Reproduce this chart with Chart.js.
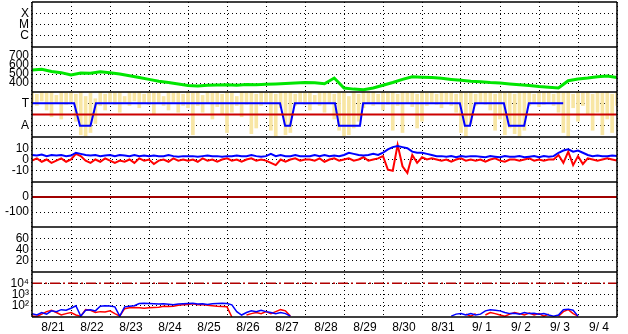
<!DOCTYPE html>
<html>
<head>
<meta charset="utf-8">
<script src="https://cdn.jsdelivr.net/npm/chart.js@4.4.0/dist/chart.umd.min.js"></script>
<style>
  html, body { margin: 0; padding: 0; background: #fff; }
  canvas { display: block; }
</style>
</head>
<body>
<canvas id="myChart" width="628" height="334"></canvas>
<script>
// x 축: 8/21 00:00 부터 하루 단위 (0 ~ 15)
const dayLabels = ["8/21", "8/22", "8/23", "8/24", "8/25", "8/26", "8/27", "8/28",
  "8/29", "8/30", "8/31", "9/ 1", "9/ 2", "9/ 3", "9/ 4"];

// 패널 1 : X / M / C (데이터 없음)
const xmcTicks = [1, 2, 3];
const xmcLabels = ["C", "M", "X"];

// 패널 2 : 초록 선 (0.25일 간격)
const greenStep = 0.25;
const greenVals = [545, 552, 528, 515, 490, 512, 508, 525, 515, 500, 480, 462, 440, 420, 405, 390,
  372, 368, 375, 378, 380, 376, 384, 380, 386, 390, 394, 400, 405, 402, 392, 455,
  345, 332, 325, 345, 375, 405, 440, 470, 465, 460, 452, 440, 430, 420, 415, 405,
  400, 390, 380, 372, 360, 352, 345, 425, 445, 455, 470, 478, 460];
const greenTicks = [400, 500, 600, 700];

// 패널 3 : T / A 상태 (A = 0, T = 1)
const taTicks = [0, 1];
const taLabels = ["A", "T"];
const taX = [0, 1.08, 1.23, 1.5, 1.64, 6.36, 6.49, 6.62, 6.74, 7.77, 7.87, 8.41, 8.49,
  10.97, 11.1, 11.23, 11.36, 12.1, 12.23, 12.62, 12.74, 13.62];
const taY = [1, 1, 0, 0, 1, 1, 0, 0, 1, 1, 0, 0, 1, 1, 0, 0, 1, 1, 0, 0, 1, 1];
const taLimit = 0.5;
// 노란 점들 (0.125일 간격, 아래 / 위 값)
const yellowStep = 0.125;
const yellowLo = [1.0, 0.9, 1.1, 0.7, 0.4, 1.0, 0.3, 0.95, 1.05, 0.2, -0.4, -0.45, -0.3, 0.1, 0.9, 0.7,
  1.0, 0.95, 0.6, 1.05, 0.9, 1.1, 0.8, 1.0, 0.95, 0.5, 1.0, 0.9, 0.7, 1.05, 0.6, 0.9,
  0.8, -0.4, 0.9, 0.6, 1.0, 0.3, 0.85, 0.5, -0.3, 0.6, 0.9, 0.4, 0.95, -0.35, -0.1, 0.9,
  1.0, -0.2, -0.45, 0.8, -0.4, -0.3, 0.9, 1.05, 0.95, 0.7, 1.0, 0.9, 0.6, 1.0, 0.3, -0.2,
  -0.45, -0.4, -0.1, 0.2, 0.8, 1.0, 0.9, 1.05, 0.7, 0.95, -0.2, 0.9, -0.3, 1.0, 0.85, -0.1,
  0.2, 0.9, 1.0, 0.95, 0.8, 1.05, 0.9, 0.6, -0.3, -0.45, 0.1, 0.9, 1.0, 0.95, 0.7, -0.2,
  0.3, -0.4, -0.1, -0.35, -0.45, -0.2, 0.9, 1.0, 0.85, 0.95, 1.05, 0.9, 0.6, -0.3, -0.45, 0.8,
  0.2, 0.9, 0.5, -0.2, 0.6, -0.4, 0.3, -0.3, 0.9];
const yellowHi = [1.5, 1.4, 1.5, 1.45, 1.5, 1.35, 1.5, 1.45, 1.5, 1.4, 1.5, 1.3, 1.45, 1.2, 1.5, 1.4,
  1.5, 1.45, 1.5, 1.3, 1.5, 1.45, 1.5, 1.4, 1.5, 1.45, 1.5, 1.3, 1.5, 1.45, 1.5, 1.4,
  1.5, 1.45, 1.5, 1.35, 1.5, 1.45, 1.5, 1.4, 1.5, 1.45, 1.3, 1.5, 1.45, 1.5, 1.4, 1.5,
  1.45, 1.5, 1.4, 1.5, 1.45, 1.5, 1.4, 1.5, 1.45, 1.5, 1.35, 1.5, 1.45, 1.5, 1.4, 1.5,
  1.45, 1.3, 1.5, 1.4, 1.5, 1.45, 1.5, 1.4, 1.5, 1.45, 1.5, 1.4, 1.5, 1.45, 1.5, 1.4,
  1.5, 1.45, 1.5, 1.4, 1.5, 1.45, 1.5, 1.4, 1.5, 1.45, 1.5, 1.4, 1.5, 1.45, 1.5, 1.4,
  1.5, 1.45, 1.5, 1.4, 1.5, 1.45, 1.5, 1.4, 1.5, 1.45, 1.5, 1.4, 1.5, 1.45, 1.5, 1.4,
  1.5, 1.45, 1.5, 1.4, 1.5, 1.45, 1.5, 1.4, 1.5];

// 패널 4 : 파랑 / 빨강 (0.125일 간격)
const fluxStep = 0.125;
const fluxBlue = [4, 3.5, 4.5, 3, 4, 3.5, 4, 3, 3.5, 6, 5, 4, 3.5, 4, 3, 3.5, 4,
  3, 4, 3.5, 3, 4, 3, 3.5, 3, 3.5, 3, 3, 4, 3, 2.5, 3, 3,
  3, 2.5, 3, 3.5, 3, 3, 2.5, 3, 3, 3.5, 3, 3, 4, 3, 2.5, 3,
  5, 3, 4, 3, 3, 4, 3, 3, 3, 4, 3, 4, 3, 3.5, 3, 4,
  6, 5, 4, 3.5, 4, 5, 4, 6, 9, 11, 12, 11, 10, 7, 6, 6, 5, 4,
  3, 3, 2.5, 3, 2, 3, 2.5, 3, 3, 2.5, 2, 3, 2.5, 2, 3, 2.5,
  2.5, 3, 2, 2.5, 3, 2, 3, 2.5, 3, 6, 8, 9, 7, 8, 6, 4,
  3, 3.5, 3, 3, 3.5, 3];
const fluxRed = [-1, 1, -2, 0, -3, -1, 1, -2, 0, 5, 3, -1, -3, 0, -2, 1, -1,
  -3, -1, -2, 0, -3, 1, -1, 0, -4, -1, 0, -2, 1, -1, 0, -1,
  0, -2, 1, -1, 0, -2, 0, 1, -1, 0, -2, 0, 1, -1, 0, -1,
  -3, -5, 0, -2, 0, 1, -1, 0, 0, -1, 1, -2, 0, 1, -1, 0,
  1, -1, 0, 2, -1, 0, 1, 3, -9, -10, 13, -6, -12, 4, -3, 2, 0, 1,
  0, -1, 0, -2, 0, 1, -1, 0, -1, 0, -2, 0, 1, -1, -2, 0,
  0, -1, 0, 1, -1, 0, -1, 0, 0, 4, -3, 7, -5, 3, -4, 1,
  0, -1, 0, 1, 0, -1];
const fluxTicks = [-10, 0, 10];

// 패널 5 : 0 기준선
const baseTicks = [-100, 0];
const baseLevel = 0;

// 패널 6 : 비어 있음
const emptyTicks = [20, 40, 60];

// 패널 7 : 로그 스케일 (0.125일 간격, null = 값 없음)
const logTicks = [100, 1000, 10000];
const logLabels = ["10²", "10³", "10⁴"];
const logLimit = 10000;
const countStep = 0.125;
const countBlue = [20, 15, 25, 18, 35, 30, 45, 40, 60, 100, 12,
  40, 45, 35, 90, 100, 95, 80, 12, 80, 90,
  100, 160, 170, 160, 150, 140, 150, 135, 120, 140,
  150, 160, 170, 140, 150, 130, 150, 160, 165, 160,
  120, 30, 15, 25, 35, 30, 40, 30, 25, 20, 25, 20, 12,
  null, null, null, null, null, null, null, null, null, null, null, null, null, null, null, null,
  null, null, 15, null, null, null, null, null, null, null, null, null, null, null, null, null,
  12, 18, 20, 15, 20, 15, 18, 35, 45, 40, 35, 25, 20, 22, 18, 25, 20, 22, 18, 20,
  15, 12, 15, 45, 50, 40, 12,
  null, null, null, null, null, null, null, null];
const countRed = [12, 11, 18, 30, 40, 25, 15, 20, 25, 15, 12,
  45, 40, 25, 30, 28, 35, 20, 12, 55, 65,
  70, 65, 60, 65, 70, 75, 90, 85, 90, 110,
  120, 130, 150, 120, 130, 110, 100, 90, 85, 80,
  10, null, null, 15, 20, 25, 20, 30, 20, 30, 45, 35, 12,
  null, null, null, null, null, null, 11, null, null, null, null, null, null, null, null, null,
  null, null, null, null, null, null, null, null, null, null, null, null, null, null, null, null,
  null, null, null, 18, 12, 20, null, 15, 25, 20, 15, 12, 18, 25, 20, 15, 22, 15, 20, 12,
  18, null, 12, 30, 45, 20, 12,
  null, null, null, null, null, null, null, null];

// 함수명 : toPoints
// 기능 : 일정 간격 값 배열 -> {x, y} 배열
function toPoints(values, step) {
  return values.map((v, i) => ({ x: i * step, y: v }));
}

// 가로 전체 선 (0일 ~ 15일)
function flatLine(level) {
  return [{ x: 0, y: level }, { x: dayLabels.length, y: level }];
}

const font = { family: "'Liberation Sans', Arial, sans-serif", size: 12 };

// 함수명 : panelAxis
// 기능 : 왼쪽에 쌓이는 패널용 y 축 생성
function panelAxis(min, max, tickValues, labels, type) {
  return {
    type: type || "linear",
    position: "left",
    stack: "panels",
    stackWeight: 1,
    min: min,
    max: max,
    grid: { color: "#000", lineWidth: 1, drawTicks: false },
    border: { display: false, dash: [1, 3] },
    ticks: {
      color: "#000",
      font: font,
      padding: 3,
      autoSkip: false,
      callback: (v, i) => (labels ? labels[i] : String(v)),
    },
    afterBuildTicks: (s) => {
      s.ticks = tickValues.map((v) => ({ value: v }));
    },
    afterFit: (s) => {
      // 라벨 때문에 위/아래 여백이 생기지 않게
      s.width = 32;
      s.paddingTop = 0;
      s.paddingBottom = 0;
    },
  };
}

const panelIds = ["y1", "y2", "y3", "y4", "y5", "y6", "y7"];

// 패널 구분선 + 테두리
const panelFrame = {
  id: "panelFrame",
  afterDraw(chart) {
    const { ctx, chartArea } = chart;
    ctx.save();
    ctx.strokeStyle = "#000";
    ctx.lineWidth = 1.5;
    ctx.beginPath();
    panelIds.forEach((id) => {
      const s = chart.scales[id];
      [s.top, s.bottom].forEach((y) => {
        ctx.moveTo(chartArea.left, y);
        ctx.lineTo(chartArea.right, y);
      });
    });
    ctx.moveTo(chartArea.left, chartArea.top);
    ctx.lineTo(chartArea.left, chartArea.bottom);
    ctx.moveTo(chartArea.right, chartArea.top);
    ctx.lineTo(chartArea.right, chartArea.bottom);
    ctx.stroke();
    ctx.restore();
  },
};

const lineBase = { type: "line", pointRadius: 0, tension: 0, fill: false, spanGaps: false };

const chartData = {
  datasets: [
    {
      ...lineBase,
      yAxisID: "y2",
      data: toPoints(greenVals, greenStep),
      borderColor: "#00e600",
      borderWidth: 3,
    },
    {
      type: "bar",
      yAxisID: "y3",
      data: yellowLo.map((lo, i) => ({ x: i * yellowStep, y: [lo, yellowHi[i]] })),
      backgroundColor: "#f8e6a4",
      barThickness: 3,
      grouped: false,
      order: 10,
    },
    {
      ...lineBase,
      yAxisID: "y3",
      data: flatLine(taLimit),
      borderColor: "#cc0000",
      borderWidth: 2,
    },
    {
      ...lineBase,
      yAxisID: "y3",
      data: taX.map((x, i) => ({ x: x, y: taY[i] })),
      borderColor: "#0000ff",
      borderWidth: 2,
    },
    {
      ...lineBase,
      yAxisID: "y4",
      data: toPoints(fluxBlue, fluxStep),
      borderColor: "#0000ff",
      borderWidth: 2,
    },
    {
      ...lineBase,
      yAxisID: "y4",
      data: toPoints(fluxRed, fluxStep),
      borderColor: "#ff0000",
      borderWidth: 2,
    },
    {
      ...lineBase,
      yAxisID: "y5",
      data: flatLine(baseLevel),
      borderColor: "#a00000",
      borderWidth: 2,
    },
    {
      ...lineBase,
      yAxisID: "y7",
      data: flatLine(logLimit),
      borderColor: "#b00000",
      borderWidth: 1.5,
      borderDash: [10, 3, 2, 3],
    },
    {
      ...lineBase,
      yAxisID: "y7",
      data: toPoints(countBlue, countStep),
      borderColor: "#0000ff",
      borderWidth: 1.5,
    },
    {
      ...lineBase,
      yAxisID: "y7",
      data: toPoints(countRed, countStep),
      borderColor: "#ff0000",
      borderWidth: 1.5,
    },
  ],
};

const chartOptions = {
  responsive: false,
  animation: false,
  layout: { padding: { top: 2, right: 11, bottom: 0, left: 0 } },
  plugins: {
    legend: { display: false },
    tooltip: { enabled: false },
  },
  // 쌓인 축은 나중에 정의한 것이 위로 감 -> 아래 패널부터 정의
  scales: {
    x: {
      type: "linear",
      position: "bottom",
      offset: false,
      min: 0,
      max: dayLabels.length,
      grid: { color: "#000", lineWidth: 1, drawTicks: false, offset: false },
      border: { display: false, dash: [1, 3] },
      ticks: {
        stepSize: 1,
        autoSkip: false,
        maxRotation: 0,
        labelOffset: 21,
        padding: 3,
        color: "#000",
        font: font,
        callback: (v) => dayLabels[v] || "",
      },
      afterFit: (s) => {
        s.height = 17;
      },
    },
    y7: panelAxis(10, 100000, logTicks, logLabels, "logarithmic"),
    y6: panelAxis(0, 80, emptyTicks),
    y5: panelAxis(-200, 100, baseTicks),
    y4: panelAxis(-20, 20, fluxTicks),
    y3: panelAxis(-0.5, 1.5, taTicks, taLabels),
    y2: panelAxis(300, 800, greenTicks),
    y1: panelAxis(0, 4, xmcTicks, xmcLabels),
  },
};

// 차트 생성
const ctx = document.getElementById("myChart").getContext("2d");
const myChart = new Chart(ctx, {
  type: "line",
  data: chartData,
  options: chartOptions,
  plugins: [panelFrame],
});
</script>
</body>
</html>
